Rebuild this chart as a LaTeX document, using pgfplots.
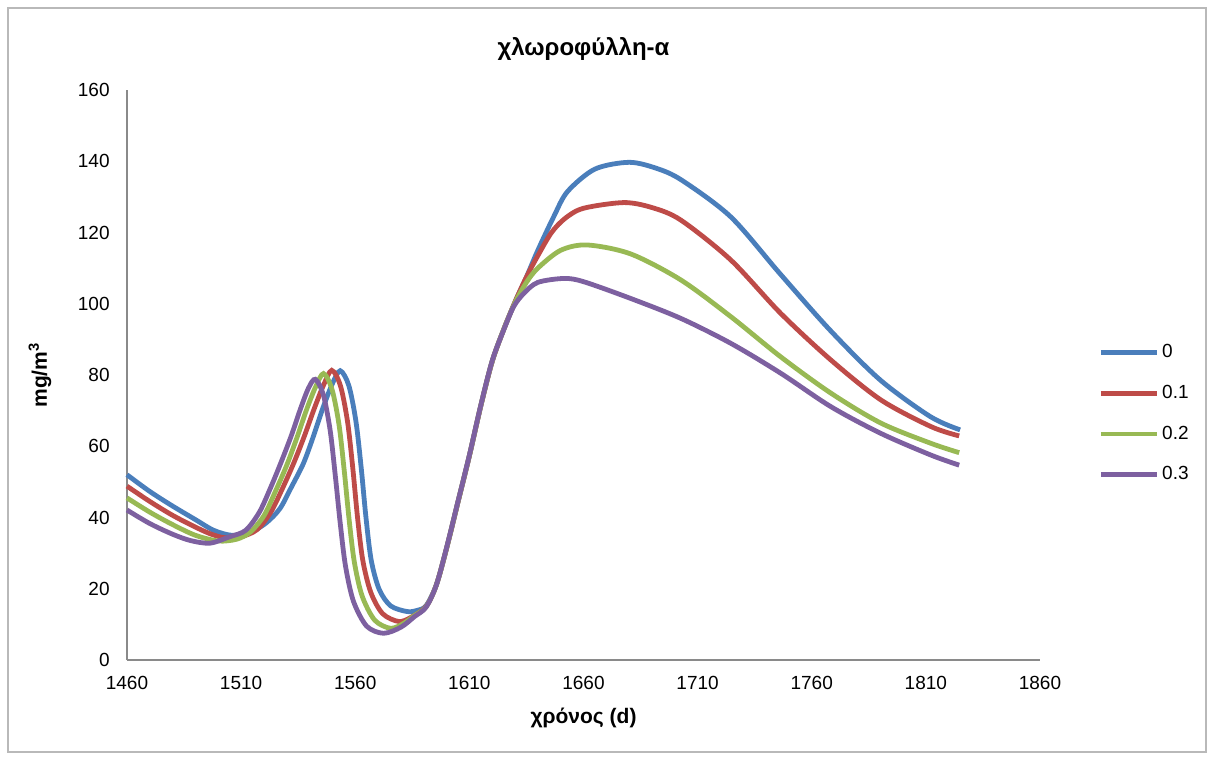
\documentclass[border=0pt]{standalone}
\usepackage{fontspec}
\setmainfont{Liberation Sans}
\usepackage{pgfplots}
\pgfplotsset{compat=1.18}
\definecolor{s0}{HTML}{4A7EBB}
\definecolor{s1}{HTML}{BE4B48}
\definecolor{s2}{HTML}{98B954}
\definecolor{s3}{HTML}{7D60A0}
\definecolor{axgray}{HTML}{8A8A8A}
\begin{document}
\begin{tikzpicture}
\useasboundingbox (-63.5pt,-50pt) rectangle (543pt,330pt);
\draw[gray!55, line width=0.8pt] (-59.5pt,-46pt) rectangle (539.5pt,326pt);
\begin{axis}[
  scale only axis,
  width=456.5pt, height=285pt,
  xmin=1460, xmax=1860, ymin=0, ymax=160,
  xtick={1460,1510,...,1860},
  ytick={0,20,...,160},
  major tick length=0pt,
  axis x line=bottom, axis y line=left,
  axis line style={-, axgray, line width=0.7pt},
  /pgf/number format/assume math mode=true,
  /pgf/number format/set thousands separator={},
  tick label style={font=\fontsize{9.5}{10.5}\selectfont},
  xticklabel style={anchor=center, yshift=-11.5pt},
  yticklabel style={anchor=east, inner sep=0pt, xshift=-8.5pt},
  title={\bfseries χλωροφύλλη-α},
  title style={at={(axis description cs:0.5,1.0508)}, anchor=center, font=\fontsize{12}{13}\selectfont},
  xlabel={\bfseries χρόνος (d)},
  xlabel style={at={(axis description cs:0.5,-0.1018)}, anchor=center, font=\fontsize{10.5}{12}\selectfont},
  ylabel={\bfseries mg/m\textsuperscript{3}},
  ylabel style={at={(axis description cs:-0.0953,0.5)}, anchor=center, font=\fontsize{10.5}{12}\selectfont},
  legend style={draw=none, fill=none, at={(axis description cs:1.0635,0.432)}, anchor=west,
    font=\fontsize{9.5}{10.5}\selectfont, row sep=9.2pt, inner sep=0pt, nodes={inner sep=1.5pt}},
  legend cell align=left,
  legend image code/.code={\draw[#1, line width=2.4pt] (0pt,0pt) -- (28pt,0pt);},
  every axis plot/.append style={line width=2.4pt, no markers, smooth},
  clip=false,
]
\addplot[s0] coordinates {
(1460,52.0) (1470,47.3) (1480,43.2) (1490,39.4) (1498,36.4) (1506,35.0) (1514,35.8)
(1521,38.5) (1527,42.5) (1532,48.5) (1537.3,55.2) (1541.5,62.5) (1545.7,70.5) (1549.8,77.3)
(1553.4,81.2) (1557.2,77.0) (1560.3,67.0) (1562.6,54.0) (1564.7,40.0) (1567,28.0) (1570.5,19.8)
(1575.5,15.2) (1582.7,13.6) (1587,13.9) (1591,15.2) (1595.5,21.0) (1600,31.3) (1605,44.3)
(1610,57.3) (1615,71.3) (1620,83.8) (1625,92.7) (1630,100.5) (1635,107.5) (1640,115.0)
(1647,124.5) (1653,131.5) (1665,137.8) (1680,139.7) (1692,138.0) (1703,134.7) (1724.5,124.4)
(1746,108.5) (1768,92.6) (1790,78.6) (1812,68.3) (1825,64.6)
};
\addlegendentry{0}
\addplot[s1] coordinates {
(1460,48.8) (1470,44.5) (1480,40.6) (1490,37.3) (1497,35.3) (1503,34.3) (1510,34.6)
(1517,36.6) (1523,41.5) (1528,48.0) (1533,55.2) (1537.5,62.5) (1542,70.5) (1546,77.0)
(1549.7,81.3) (1553.5,77.0) (1556.6,67.0) (1558.9,54.0) (1561,40.0) (1563.3,28.0) (1566.8,19.0)
(1572,13.0) (1579.1,10.8) (1584.5,12.0) (1591,15.0) (1595.5,21.0) (1600,31.3) (1605,44.3)
(1610,57.3) (1615,71.3) (1620,83.8) (1625,92.7) (1630,100.5) (1635,107.5) (1640,113.5)
(1646,120.0) (1652,124.0) (1660,126.8) (1677.7,128.4) (1690,127.0) (1702.6,123.5)
(1724.5,112.3) (1746.4,97.3) (1768.4,84.2) (1790.3,73.0) (1812.3,65.5) (1824.6,62.9)
};
\addlegendentry{0.1}
\addplot[s2] coordinates {
(1460,45.5) (1470,41.5) (1480,38.0) (1490,35.0) (1500,33.4) (1508,33.9) (1514,35.9)
(1520,40.5) (1525,47.3) (1530,54.7) (1534.5,62.5) (1538.8,70.5) (1542.6,76.6) (1546.1,80.4)
(1549.8,76.0) (1552.9,66.0) (1555.2,53.0) (1557.3,39.5) (1559.6,27.5) (1563,18.0) (1568.5,11.2)
(1575.4,8.9) (1581,10.2) (1586,12.5) (1591,14.9) (1595.5,21.0) (1600,31.4) (1605,44.4)
(1610,57.4) (1615,71.4) (1620,83.9) (1625,92.7) (1630,100.3) (1635,106.0) (1640,110.0)
(1650,115.0) (1661.6,116.5) (1680.6,114.0) (1702.6,106.7) (1724.5,96.4)
(1746.4,85.1) (1768.4,74.9) (1790.3,66.5) (1812.3,60.8) (1824.6,58.2)
};
\addlegendentry{0.2}
\addplot[s3] coordinates {
(1460,42.1) (1470,38.3) (1480,35.3) (1488,33.5) (1496.4,32.8) (1505,34.6) (1512,36.4)
(1518,41.5) (1523,48.5) (1527.5,55.5) (1532,63.0) (1536,70.5) (1539.5,76.3) (1542.5,78.8)
(1546,74.5) (1549,64.5) (1551.3,51.5) (1553.4,38.5) (1555.7,26.5) (1559.2,16.5) (1565,9.5)
(1572.4,7.5) (1580,9.2) (1586,12.2) (1591,14.8) (1595.5,21.0) (1600,31.5) (1605,44.5)
(1610,57.5) (1615,71.5) (1620,84.0) (1625,92.6) (1629.4,99.2) (1634,103.0) (1640,106.0)
(1651.4,107.1) (1660,106.2) (1680.6,101.5) (1702.6,95.9) (1724.5,88.9) (1746.4,80.5)
(1768.4,71.1) (1790.3,63.6) (1812.3,57.5) (1824.6,54.7)
};
\addlegendentry{0.3}
\end{axis}
\end{tikzpicture}
\end{document}
